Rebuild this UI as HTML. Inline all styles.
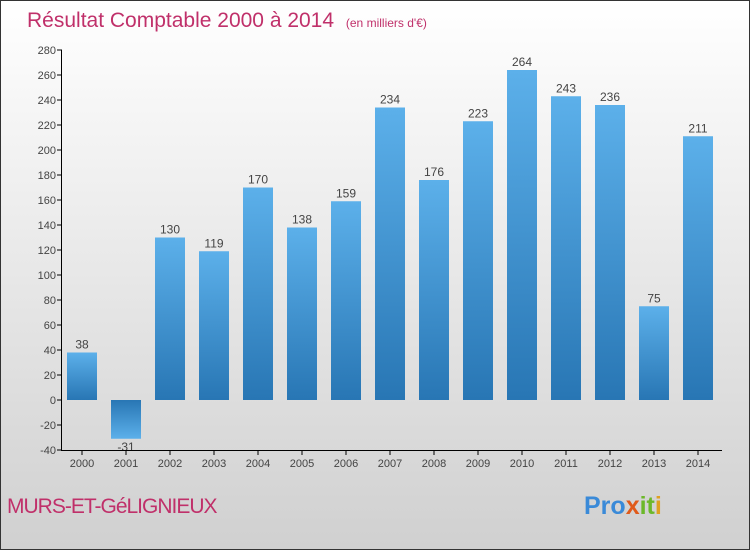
<!DOCTYPE html>
<html><head><meta charset="utf-8"><style>
html,body{margin:0;padding:0}
body{width:750px;height:550px;overflow:hidden;font-family:"Liberation Sans",sans-serif}
</style></head><body>
<svg id="chart" width="750" height="550" xmlns="http://www.w3.org/2000/svg">
<defs>
<linearGradient id="bg" x1="0" y1="0" x2="0" y2="1"><stop offset="0" stop-color="#ffffff"/><stop offset="1" stop-color="#d0d0d0"/></linearGradient>
<linearGradient id="barPos" x1="0" y1="0" x2="0" y2="1"><stop offset="0" stop-color="#5cb0ea"/><stop offset="1" stop-color="#2876b4"/></linearGradient>
<linearGradient id="barNeg" x1="0" y1="0" x2="0" y2="1"><stop offset="0" stop-color="#2876b4"/><stop offset="1" stop-color="#5cb0ea"/></linearGradient>
</defs>
<rect x="0.5" y="0.5" width="749" height="549" fill="url(#bg)" stroke="#333" stroke-width="1"/>
<text x="27" y="27" font-size="21" fill="#c0306a">Résultat Comptable 2000 à 2014 <tspan font-size="12" dx="6">(en milliers d'€)</tspan></text>
<g id="bars"></g>
<g id="axes"></g>
<text x="7" y="513" font-size="21" fill="#c0306a" letter-spacing="-1">MURS-ET-GéLIGNIEUX</text>
<text x="584" y="514" font-size="25" font-weight="bold" fill="#3a8ad8">Pro<tspan fill="#e05a1a">x</tspan><tspan fill="#6cb82a">it</tspan><tspan fill="#e0a020">i</tspan></text>
</svg>
<script>
const categories=["2000","2001","2002","2003","2004","2005","2006","2007","2008","2009","2010","2011","2012","2013","2014"];
const values=[38,-31,130,119,170,138,159,234,176,223,264,243,236,75,211];
const yTicks=[-40,-20,0,20,40,60,80,100,120,140,160,180,200,220,240,260,280];
const NS="http://www.w3.org/2000/svg";
const y=v=>400-v*1.25;
const x=i=>82+i*44;
const bars=document.getElementById('bars'),axes=document.getElementById('axes');
function mk(t,a,p){const e=document.createElementNS(NS,t);for(const k in a)e.setAttribute(k,a[k]);p.appendChild(e);return e;}
values.forEach((v,i)=>{
 const r=mk('rect',{x:x(i)-15,y:Math.min(y(v),y(0)),width:30,height:Math.abs(y(v)-y(0)),fill:v>=0?'url(#barPos)':'url(#barNeg)'},bars);
 
 
 const t=mk('text',{x:x(i),y:v>=0?y(v)-4:y(v)+12,'text-anchor':'middle','font-size':12,fill:'#444'},bars);
 t.textContent=v;
 
 
 const tk=mk('line',{x1:x(i),x2:x(i),y1:450,y2:455,stroke:'#000'},axes);
 
 
 const lb=mk('text',{x:x(i),y:467,'text-anchor':'middle','font-size':11,fill:'#444'},axes);
 lb.textContent=categories[i];
 
 
});
yTicks.forEach(v=>{
 const tk=mk('line',{x1:57,x2:62,y1:y(v),y2:y(v),stroke:'#000'},axes);
 
 
 const lb=mk('text',{x:56,y:y(v)+4,'text-anchor':'end','font-size':11,fill:'#444'},axes);
 lb.textContent=v;
 
 
});
const ya=mk('line',{x1:61.5,x2:61.5,y1:y(280),y2:450,stroke:'#000'},axes);


const xa=mk('line',{x1:61,x2:722,y1:450.5,y2:450.5,stroke:'#000'},axes);


</script>
</body></html>
